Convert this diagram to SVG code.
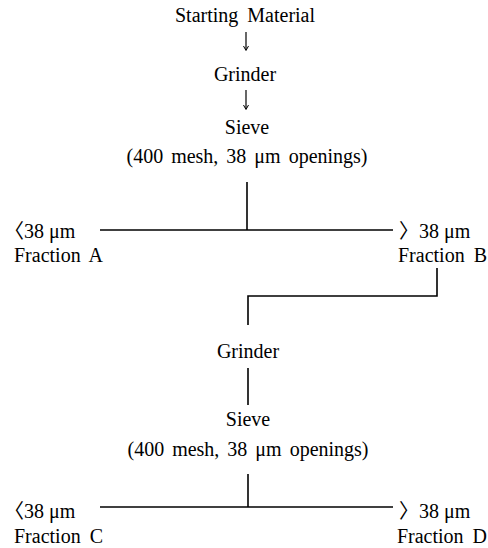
<svg xmlns="http://www.w3.org/2000/svg" width="488" height="548" viewBox="0 0 488 548">
<defs>
<marker id="ah" markerWidth="8" markerHeight="6" refX="7" refY="3" orient="auto" markerUnits="userSpaceOnUse">
<path d="M3,0.5 L7.5,3 L3,5.5" fill="none" stroke="#000" stroke-width="1"/>
</marker>
<style>
text{font-family:"Liberation Serif","Noto Sans CJK SC",serif;font-size:20px;fill:#000}
.c{text-anchor:middle}
.e{text-anchor:end}
line,path.w{stroke:#000;stroke-width:1.6;fill:none}
</style>
</defs>
<rect width="488" height="548" fill="#fff"/>
<g id="connectors">
<line x1="246" y1="32" x2="246" y2="50" marker-end="url(#ah)" style="stroke-width:1.2"/>
<line x1="246" y1="90" x2="246" y2="109" marker-end="url(#ah)" style="stroke-width:1.2"/>
<line x1="247" y1="182" x2="247" y2="230"/>
<line x1="100" y1="230" x2="393" y2="230"/>
<path class="w" d="M437,268 V296 H248 V325"/>
<line x1="248" y1="368" x2="248" y2="405"/>
<line x1="248" y1="474" x2="248" y2="507"/>
<line x1="100" y1="507" x2="393" y2="507"/>
</g>
<g id="start"><text class="c" x="245" y="22" word-spacing="4">Starting Material</text></g>
<g id="grinder1"><text class="c" x="245" y="81">Grinder</text></g>
<g id="sieve1"><text class="c" x="247" y="134">Sieve</text><text class="c" x="247" y="163" word-spacing="3">(400 mesh, 38 μm openings)</text></g>
<g id="fracA"><text x="4" y="238">〈38 μm</text><text x="14" y="262" word-spacing="4">Fraction A</text></g>
<g id="fracB"><text x="399" y="238">〉38 μm</text><text class="e" x="487" y="262" word-spacing="4">Fraction B</text></g>
<g id="grinder2"><text class="c" x="248" y="358">Grinder</text></g>
<g id="sieve2"><text class="c" x="248" y="426">Sieve</text><text class="c" x="248" y="456" word-spacing="3">(400 mesh, 38 μm openings)</text></g>
<g id="fracC"><text x="4" y="518">〈38 μm</text><text x="14" y="543" word-spacing="4">Fraction C</text></g>
<g id="fracD"><text x="399" y="518">〉38 μm</text><text class="e" x="487" y="543" word-spacing="4">Fraction D</text></g>
</svg>
